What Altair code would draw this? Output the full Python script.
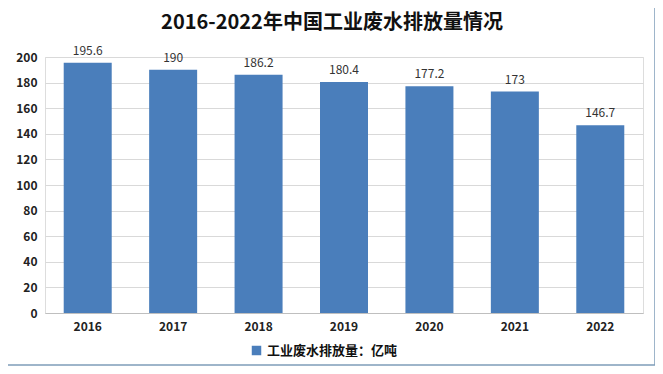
import altair as alt
import pandas as pd

years = ["2016", "2017", "2018", "2019", "2020", "2021", "2022"]
values = [195.6, 190, 186.2, 180.4, 177.2, 173, 146.7]
labels = ["195.6", "190", "186.2", "180.4", "177.2", "173", "146.7"]
y_ticks = [0, 20, 40, 60, 80, 100, 120, 140, 160, 180, 200]
series = "工业废水排放量：亿吨"
title = "2016-2022年中国工业废水排放量情况"

df = pd.DataFrame({"year": years, "value": values, "label": labels, "series": [series] * len(years)})

W, H = 598, 256
FONT = "Noto Sans CJK SC"

base = alt.Chart(df)
one = base.transform_filter("datum.year == '2016'")

x_enc = alt.X("year:N", sort=years, title=None,
              axis=alt.Axis(labelAngle=0, labelFontSize=12, labelFontWeight="bold", labelColor="#222",
                            ticks=False, domainColor="#BFBFBF", labelPadding=8, labelFont=FONT))
y_enc = alt.Y("value:Q", title=None, scale=alt.Scale(domain=[0, 200], nice=False),
              axis=alt.Axis(values=y_ticks, labelOverlap=False,
                            labelFontSize=12, labelFontWeight="bold",
                            labelColor="#222", domain=False, ticks=False, gridColor="#D9D9D9",
                            labelPadding=8, labelFont=FONT))

border = one.mark_rect(fill="white", fillOpacity=0, stroke="#7F9DB9", strokeWidth=1.5).encode(
    x=alt.value(-40), x2=alt.value(W + 12), y=alt.value(-52), y2=alt.value(H + 52)
)

title_mark = one.mark_text(fontSize=20, fontWeight="bold", font=FONT, color="#111", baseline="middle").encode(
    x=alt.value(W / 2 - 12), y=alt.value(-34), text=alt.value(title)
)

bars = base.mark_bar(color="#4A7EBB", size=48).encode(
    x=x_enc,
    y=y_enc,
    color=alt.Color("series:N", scale=alt.Scale(range=["#4A7EBB"]),
                    legend=alt.Legend(title=None, orient="none", legendX=205, legendY=287,
                                      symbolType="square", symbolSize=90, labelFontSize=13,
                                      labelFontWeight="bold", labelColor="#111", labelFont=FONT)),
)

text = base.mark_text(dy=-12, fontSize=12, color="#333", font=FONT).encode(
    x=x_enc,
    y=y_enc,
    text="label:N",
)

chart = alt.layer(border, title_mark, bars, text).properties(
    width=W, height=H,
    autosize=alt.AutoSizeParams(type="none"),
    padding={"left": 37, "top": 49, "right": 12, "bottom": 53},
).configure_view(stroke=None).configure(background="white")

chart.save("out.html", embed_options={"renderer": "svg", "actions": False})
